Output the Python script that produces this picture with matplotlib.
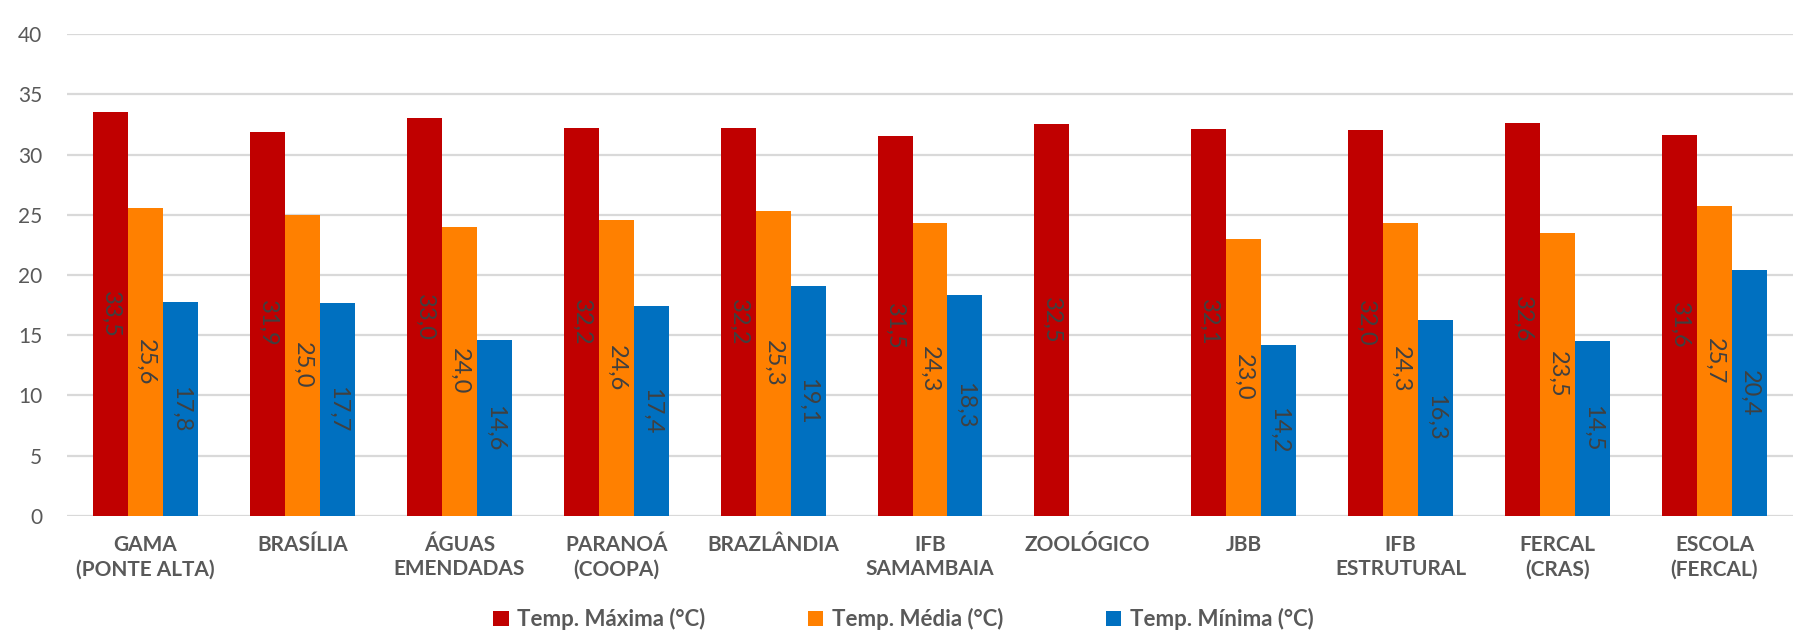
# grafico de barras agrupadas com as temperaturas por estacao
# (maxima, media e minima), com rotulos verticais dentro das barras

import numpy as np
import matplotlib
matplotlib.use('Agg')
import matplotlib.pyplot as plt

# dados

estacoes = ['GAMA\n(PONTE ALTA)', 'BRASÍLIA', 'ÁGUAS\nEMENDADAS', 'PARANOÁ\n(COOPA)',
            'BRAZLÂNDIA', 'IFB\nSAMAMBAIA', 'ZOOLÓGICO', 'JBB', 'IFB\nESTRUTURAL',
            'FERCAL\n(CRAS)', 'ESCOLA\n(FERCAL)']

temp_max = [33.5, 31.9, 33.0, 32.2, 32.2, 31.5, 32.5, 32.1, 32.0, 32.6, 31.6]
temp_med = [25.6, 25.0, 24.0, 24.6, 25.3, 24.3, np.nan, 23.0, 24.3, 23.5, 25.7]
temp_min = [17.8, 17.7, 14.6, 17.4, 19.1, 18.3, np.nan, 14.2, 16.3, 14.5, 20.4]

series = [('Temp. Máxima (°C)', temp_max, '#C00000'),
          ('Temp. Média (°C)', temp_med, '#FF8000'),
          ('Temp. Mínima (°C)', temp_min, '#0070C0')]

plt.rcParams['font.family'] = ['Lato', 'DejaVu Sans']

fig = plt.figure(figsize=(18.18, 6.36), dpi=100)
ax = fig.add_axes([0.0369, 0.1887, 0.9493, 0.7578])

x = np.arange(len(estacoes))
largura = 0.223

for i, (nome, valores, cor) in enumerate(series):
    pos = x + (i - 1) * largura
    ax.bar(pos, valores, largura, color=cor, label=nome, zorder=3)
    # rotulos no centro de cada barra
    for p, v in zip(pos, valores):
        if np.isnan(v):
            continue
        ax.text(p, v / 2, f'{v:.1f}'.replace('.', ','), rotation=270,
                ha='center', va='center', fontsize=17, color='#404040', zorder=4)

ax.set_xlim(-0.5, len(estacoes) - 0.5)
ax.set_ylim(0, 40)
ax.set_yticks(range(0, 41, 5))
ax.yaxis.grid(True, color='#D9D9D9', linewidth=1.6, zorder=0)
ax.set_axisbelow(True)

for s in ax.spines.values():
    s.set_visible(False)

ax.set_xticks(x)
ax.set_xticklabels(estacoes, fontsize=15, fontweight='bold', color='#595959',
                   linespacing=1.25)
ax.tick_params(axis='x', length=0, pad=14)
ax.tick_params(axis='y', length=0, pad=18, labelsize=15, labelcolor='#595959')

leg = fig.legend(loc='center', bbox_to_anchor=(0.497, 0.026), ncol=3, frameon=False,
                 handlelength=0.7, handleheight=0.7, handletextpad=0.4,
                 columnspacing=4.6, prop={'size': 16, 'weight': 'bold'})
for t in leg.get_texts():
    t.set_color('#595959')

fig.savefig('out.png', dpi=100)
